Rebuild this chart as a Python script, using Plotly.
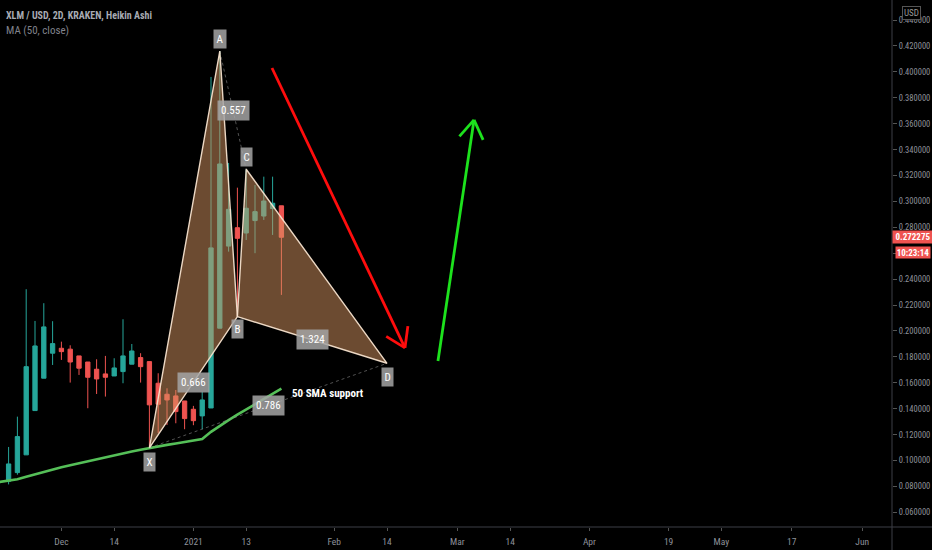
import math
import pandas as pd
import plotly.graph_objects as go

# ---------------- data ----------------
bar_dates = pd.date_range("2020-11-20", periods=32, freq="2D")
open_ = [0.0839, 0.0906, 0.1043, 0.1385, 0.1635, 0.1828, 0.1866, 0.1859, 0.1807, 0.1760,
         0.1704, 0.1668, 0.1652, 0.1686, 0.1743, 0.1794, 0.1763, 0.1596, 0.1511, 0.1498,
         0.1459, 0.1395, 0.1344, 0.1405, 0.2021, 0.2655, 0.2797, 0.2756, 0.2852, 0.2887,
         0.2945, 0.2966]
high = [0.1104, 0.1338, 0.2322, 0.2077, 0.2214, 0.2075, 0.1917, 0.1889, 0.1807, 0.1760,
        0.1781, 0.1807, 0.1789, 0.2090, 0.1899, 0.1828, 0.1763, 0.1673, 0.1557, 0.1544,
        0.1459, 0.1421, 0.1531, 0.3961, 0.4161, 0.3297, 0.3106, 0.3248, 0.3127, 0.3191,
        0.3191, 0.2966]
low = [0.0815, 0.0890, 0.1043, 0.1385, 0.1635, 0.1737, 0.1776, 0.1601, 0.1660, 0.1403,
       0.1513, 0.1493, 0.1652, 0.1596, 0.1743, 0.1601, 0.1097, 0.1212, 0.1274, 0.1287,
       0.1241, 0.1272, 0.1241, 0.1405, 0.2021, 0.2612, 0.2110, 0.2702, 0.2600, 0.2857,
       0.2741, 0.2278]
close = [0.0973, 0.1184, 0.1724, 0.1884, 0.2031, 0.1902, 0.1840, 0.1760, 0.1712, 0.1642,
         0.1629, 0.1642, 0.1714, 0.1807, 0.1845, 0.1724, 0.1429, 0.1434, 0.1467, 0.1377,
         0.1323, 0.1307, 0.1467, 0.2641, 0.3289, 0.2939, 0.2715, 0.2947, 0.2921, 0.3003,
         0.2986, 0.2723]

ma_dates = pd.date_range("2020-11-18", periods=33, freq="2D")
ma50 = [0.0834, 0.0843, 0.0855, 0.0874, 0.0893, 0.0913, 0.0931, 0.0948, 0.0963, 0.0979,
        0.0995, 0.1011, 0.1026, 0.1040, 0.1054, 0.1069, 0.1083, 0.1097, 0.1108, 0.1120,
        0.1131, 0.1141, 0.1153, 0.1165, 0.1221, 0.1268, 0.1311, 0.1353, 0.1393, 0.1432,
        0.1473, 0.1514, 0.1555]

pat_names = ["X", "A", "B", "C", "D"]
pat_dates = ["2020-12-22", "2021-01-07", "2021-01-11", "2021-01-13", "2021-02-14"]
pat_prices = [0.1097, 0.4161, 0.2110, 0.3248, 0.1750]
ratio_legs = [("A", "C", "0.557"), ("X", "B", "0.666"), ("B", "D", "1.324"), ("X", "D", "0.786")]

red_arrow_dates = ["2021-01-18 20:40", "2021-02-18 02:00"]
red_arrow_prices = [0.4030, 0.1869]
green_arrow_dates = ["2021-02-25 14:00", "2021-03-05 18:30"]
green_arrow_prices = [0.1768, 0.3629]

note_date = "2021-01-23 00:00"
note_price = 0.1513
note_text = "50 SMA support"

last_price_text = "0.272275"
countdown_text = "10:23:14"

tick_dates = ["2020-12-02", "2020-12-14", "2021-01-01", "2021-01-13", "2021-02-02", "2021-02-14",
              "2021-03-02", "2021-03-14", "2021-04-01", "2021-04-19", "2021-05-01", "2021-05-17",
              "2021-06-02"]
tick_text = ["Dec", "14", "2021", "13", "Feb", "14", "Mar", "14", "Apr", "19", "May", "17", "Jun"]

# ---------------- layout constants ----------------
W, H = 932, 550
ML, MR, MT, MB = 0, 40, 0, 23
X_RANGE = ["2020-11-18 01:05", "2021-06-08 18:30"]
Y_RANGE = [0.0486, 0.4555]
FONT = "Roboto Condensed, Open Sans Condensed, DejaVu Sans Condensed, sans-serif"

plot_w = W - ML - MR
plot_h = H - MT - MB
x0 = pd.Timestamp(X_RANGE[0]); x1 = pd.Timestamp(X_RANGE[1])
px_per_s = plot_w / (x1 - x0).total_seconds()
px_per_val = plot_h / (Y_RANGE[1] - Y_RANGE[0])


def to_px(d, v):
    return ((pd.Timestamp(d) - x0).total_seconds() * px_per_s, (v - Y_RANGE[0]) * px_per_val)


def from_px(px, py):
    return (x0 + pd.Timedelta(seconds=px / px_per_s), Y_RANGE[0] + py / px_per_val)


def arrow_xy(dates, prices, head_len=22, ang=33):
    (sx, sy), (tx, ty) = to_px(dates[0], prices[0]), to_px(dates[1], prices[1])
    dx, dy = sx - tx, sy - ty
    n = math.hypot(dx, dy)
    dx, dy = dx / n, dy / n
    xs, ys = [pd.Timestamp(dates[0]), pd.Timestamp(dates[1]), None], [prices[0], prices[1], None]
    for a in (ang, -ang):
        r = math.radians(a)
        rx = dx * math.cos(r) - dy * math.sin(r)
        ry = dx * math.sin(r) + dy * math.cos(r)
        d, v = from_px(tx + rx * head_len, ty + ry * head_len)
        xs += [pd.Timestamp(dates[1]), d, None]
        ys += [prices[1], v, None]
    return xs, ys


P = {n: (pd.Timestamp(d), v) for n, d, v in zip(pat_names, pat_dates, pat_prices)}

fig = go.Figure()

fig.add_trace(go.Candlestick(
    x=bar_dates, open=open_, high=high, low=low, close=close,
    increasing=dict(line=dict(color="#26a69a", width=1), fillcolor="#26a69a"),
    decreasing=dict(line=dict(color="#ef5350", width=1), fillcolor="#ef5350"),
    whiskerwidth=0, showlegend=False, hoverinfo="skip"))

fig.add_trace(go.Scatter(x=ma_dates, y=ma50, mode="lines",
                         line=dict(color="#55bf58", width=2.6), showlegend=False, hoverinfo="skip"))

# thin dotted legs
for a, b in [("A", "C"), ("X", "D")]:
    fig.add_trace(go.Scatter(x=[P[a][0], P[b][0]], y=[P[a][1], P[b][1]], mode="lines",
                             line=dict(color="rgba(150,150,150,0.55)", width=1, dash="dot"),
                             showlegend=False, hoverinfo="skip"))

# filled triangles
for tri in (["X", "A", "B"], ["B", "C", "D"]):
    pts = tri + [tri[0]]
    fig.add_trace(go.Scatter(x=[P[p][0] for p in pts], y=[P[p][1] for p in pts], mode="lines",
                             fill="toself", fillcolor="rgba(215,150,98,0.5)",
                             line=dict(color="rgba(245,225,205,0.95)", width=1.4),
                             showlegend=False, hoverinfo="skip"))

for dts, prs, col in [(red_arrow_dates, red_arrow_prices, "#ff0d0d"),
                      (green_arrow_dates, green_arrow_prices, "#1de21d")]:
    xs, ys = arrow_xy(dts, prs)
    fig.add_trace(go.Scatter(x=xs, y=ys, mode="lines", line=dict(color=col, width=2.8),
                             showlegend=False, hoverinfo="skip"))

ann = []
box_bg = "rgba(165,165,165,0.85)"
shifts = {"X": -14, "A": 12, "B": -12, "C": 12, "D": -14}
for n in pat_names:
    ann.append(dict(x=P[n][0], y=P[n][1], text=n, showarrow=False, yshift=shifts[n],
                    bgcolor=box_bg, borderpad=2.5, font=dict(family=FONT, size=11, color="white")))
for a, b, t in ratio_legs:
    xm = P[a][0] + (P[b][0] - P[a][0]) / 2
    ym = (P[a][1] + P[b][1]) / 2
    ann.append(dict(x=xm, y=ym, text=t, showarrow=False, bgcolor=box_bg, borderpad=3,
                    font=dict(family=FONT, size=11, color="white")))
ann.append(dict(x=pd.Timestamp(note_date), y=note_price, text="<b>" + note_text + "</b>", showarrow=False,
                xanchor="left", font=dict(family=FONT, size=11, color="white")))
ann.append(dict(xref="paper", x=1, y=float(last_price_text), text="<b>" + last_price_text + "</b>",
                showarrow=False, xanchor="left", bgcolor="#ef5350", width=38, height=10, borderpad=1,
                font=dict(family=FONT, size=9, color="white")))
ann.append(dict(xref="paper", x=1, y=float(last_price_text), text="<b>" + countdown_text + "</b>",
                showarrow=False, xanchor="left", xshift=3, yshift=-15, bgcolor="#ef5350", width=32,
                height=9, borderpad=1, font=dict(family=FONT, size=9, color="white")))
ann.append(dict(xref="paper", yref="paper", x=1, y=1, xshift=10, yshift=-6, xanchor="left", yanchor="top",
                text="USD", showarrow=False, bgcolor="black", bordercolor="#555", borderwidth=1, borderpad=1,
                font=dict(family=FONT, size=9, color="#9a9a9a")))
ann.append(dict(xref="paper", yref="paper", x=0, y=1, xshift=4, yshift=-8, xanchor="left", yanchor="top",
                text="<b>XLM / USD, 2D, KRAKEN, Heikin Ashi</b>", showarrow=False,
                font=dict(family=FONT, size=10, color="#a8abb3")))
ann.append(dict(xref="paper", yref="paper", x=0, y=1, xshift=4, yshift=-22, xanchor="left", yanchor="top",
                text="MA (50, close)", showarrow=False,
                font=dict(family=FONT, size=11, color="#80838c")))

shapes = [
    dict(type="line", xref="paper", yref="paper", x0=0, x1=W / plot_w, y0=0, y1=0,
         line=dict(color="#3c3f47", width=1)),
    dict(type="line", xref="paper", yref="paper", x0=1, x1=1, y0=-MB / plot_h, y1=1,
         line=dict(color="#3c3f47", width=1)),
]

fig.update_layout(
    width=W, height=H, margin=dict(l=ML, r=MR, t=MT, b=MB),
    paper_bgcolor="black", plot_bgcolor="black", showlegend=False,
    annotations=ann, shapes=shapes,
    xaxis=dict(type="date", range=X_RANGE, tickvals=tick_dates, ticktext=tick_text,
               showgrid=False, zeroline=False, showline=False, ticks="outside", ticklen=3,
               ticklabelstandoff=3,
               tickcolor="#555", tickfont=dict(family=FONT, size=9.5, color="#8e919a"),
               rangeslider=dict(visible=False), fixedrange=True),
    yaxis=dict(side="right", range=Y_RANGE, tick0=0, dtick=0.02, tickformat=".6f",
               showgrid=False, zeroline=False, showline=False, ticks="outside", ticklen=4,
               tickcolor="#555", tickfont=dict(family=FONT, size=8.5, color="#8e919a")),
)

fig.write_html("out.html", config={"displayModeBar": False},
               post_script="document.body.style.margin='0';")
